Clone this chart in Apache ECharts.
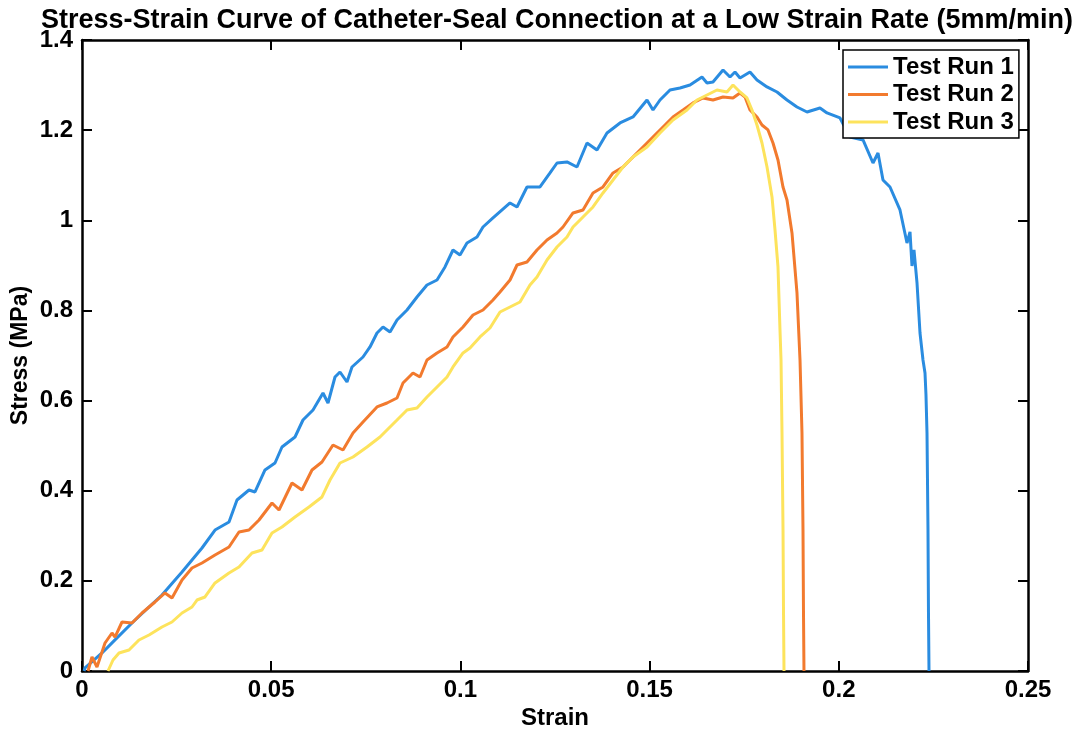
<!DOCTYPE html>
<html>
<head>
<meta charset="utf-8">
<script src="https://cdn.jsdelivr.net/npm/echarts@6/dist/echarts.min.js"></script>
<style>
html,body{margin:0;padding:0;background:#fff;}
#chart{width:1074px;height:734px;}
</style>
</head>
<body>
<div id="chart"></div>
<script>
const seriesNames = ['Test Run 1', 'Test Run 2', 'Test Run 3'];
const xTicks = [0, 0.05, 0.1, 0.15, 0.2, 0.25];
const yTicks = [0, 0.2, 0.4, 0.6, 0.8, 1, 1.2, 1.4];

const run1Strain = [0.00053,0.00079,0.00529,0.00872,0.01321,0.01771,0.02114,0.02458,0.02643,0.02907,0.03171,0.03515,0.03885,0.04096,0.04413,0.04572,0.04836,0.05100,0.05285,0.05629,0.05840,0.06105,0.06369,0.06501,0.06686,0.06818,0.07003,0.07135,0.07426,0.07611,0.07796,0.07955,0.08140,0.08325,0.08589,0.08853,0.09117,0.09382,0.09593,0.09804,0.09989,0.10174,0.10439,0.10597,0.10861,0.11311,0.11496,0.11760,0.12104,0.12368,0.12553,0.12817,0.13081,0.13346,0.13610,0.13874,0.14218,0.14561,0.14931,0.15090,0.15275,0.15539,0.15803,0.16068,0.16385,0.16517,0.16675,0.16940,0.17125,0.17257,0.17389,0.17653,0.17838,0.18103,0.18367,0.18631,0.18895,0.19160,0.19503,0.19688,0.20032,0.20296,0.20640,0.20904,0.21036,0.21168,0.21353,0.21617,0.21802,0.21882,0.21934,0.21987,0.22067,0.22146,0.22225,0.22278,0.22304,0.22331,0.22357,0.22370,0.22384];
const run1Stress = [0,0.0067,0.040,0.069,0.1065,0.142,0.1686,0.2019,0.2197,0.2463,0.2729,0.3128,0.3306,0.3794,0.4016,0.3972,0.4460,0.4615,0.4970,0.5192,0.5569,0.5791,0.6168,0.5946,0.6523,0.6634,0.6412,0.6745,0.6967,0.7189,0.7499,0.7633,0.7522,0.7788,0.8010,0.8298,0.8564,0.8675,0.8964,0.9341,0.9230,0.9496,0.9629,0.9851,1.0051,1.0384,1.0295,1.0739,1.0739,1.1050,1.1271,1.1294,1.1183,1.1715,1.1560,1.1937,1.2159,1.2292,1.2669,1.2447,1.2669,1.2891,1.2935,1.3002,1.3180,1.3047,1.3069,1.3335,1.3180,1.3290,1.3157,1.3290,1.3113,1.2958,1.2847,1.2669,1.2514,1.2403,1.2492,1.2381,1.2270,1.1848,1.1782,1.1271,1.1493,1.0894,1.0739,1.0229,0.9496,0.9741,0.8986,0.9341,0.8609,0.7499,0.6900,0.6612,0.6124,0.5281,0.3128,0.1287,0];

const run2Strain = [0.00159,0.00264,0.00396,0.00608,0.00793,0.00872,0.01057,0.01321,0.01586,0.01929,0.02193,0.02378,0.02643,0.02907,0.03171,0.03515,0.03885,0.04149,0.04413,0.04678,0.05021,0.05206,0.05550,0.05814,0.06078,0.06342,0.06633,0.06897,0.07162,0.07426,0.07796,0.08060,0.08325,0.08483,0.08747,0.08932,0.09117,0.09382,0.09646,0.09804,0.10069,0.10333,0.10597,0.10861,0.11047,0.11311,0.11496,0.11760,0.12024,0.12289,0.12553,0.12711,0.12976,0.13240,0.13504,0.13768,0.14033,0.14297,0.14561,0.14826,0.15090,0.15354,0.15618,0.15883,0.16147,0.16411,0.16675,0.16940,0.17204,0.17389,0.17521,0.17653,0.17838,0.17970,0.18129,0.18261,0.18393,0.18525,0.18631,0.18763,0.18895,0.18975,0.19027,0.19054,0.19067,0.19080];
const run2Stress = [0,0.0311,0.0089,0.0621,0.0843,0.0754,0.1087,0.1065,0.1287,0.1531,0.1731,0.1620,0.2019,0.2285,0.2396,0.2574,0.2751,0.3084,0.3128,0.3350,0.3728,0.3572,0.4171,0.4016,0.4460,0.4637,0.5014,0.4903,0.5281,0.5525,0.5858,0.5946,0.6057,0.6390,0.6612,0.6523,0.6900,0.7056,0.7189,0.7411,0.7633,0.7899,0.8010,0.8232,0.8409,0.8675,0.9008,0.9075,0.9341,0.9563,0.9718,0.9851,1.0162,1.0229,1.0606,1.0739,1.1050,1.1183,1.1404,1.1626,1.1848,1.2070,1.2292,1.2447,1.2603,1.2714,1.2669,1.2736,1.2714,1.2825,1.2736,1.2447,1.2292,1.2114,1.2004,1.1715,1.1338,1.0739,1.0450,0.9718,0.8387,0.6900,0.5281,0.3128,0.1287,0];

const run3Strain = [0.00687,0.00819,0.00978,0.01242,0.01506,0.01771,0.02114,0.02378,0.02643,0.02907,0.03039,0.03251,0.03515,0.03885,0.04149,0.04493,0.04757,0.05021,0.05285,0.05629,0.05999,0.06342,0.06554,0.06818,0.07162,0.07532,0.07875,0.08060,0.08325,0.08589,0.08853,0.09117,0.09382,0.09646,0.09804,0.10069,0.10254,0.10518,0.10782,0.11047,0.11311,0.11575,0.11839,0.12024,0.12289,0.12553,0.12817,0.12976,0.13240,0.13504,0.13768,0.14033,0.14297,0.14561,0.14931,0.15275,0.15618,0.15988,0.16253,0.16517,0.16781,0.17045,0.17204,0.17389,0.17574,0.17706,0.17838,0.17970,0.18103,0.18235,0.18314,0.18393,0.18446,0.18473,0.18499,0.18526,0.18539,0.18552];
const run3Stress = [0,0.0244,0.0399,0.0466,0.0688,0.0799,0.0976,0.1087,0.1287,0.1420,0.1575,0.1642,0.1953,0.2174,0.2308,0.2618,0.2685,0.3062,0.3195,0.3417,0.3639,0.3861,0.4238,0.4615,0.4748,0.4970,0.5192,0.5347,0.5569,0.5791,0.5835,0.6079,0.6301,0.6523,0.6745,0.7056,0.7167,0.7411,0.7610,0.7965,0.8076,0.8187,0.8564,0.8742,0.9119,0.9408,0.9629,0.9851,1.0073,1.0295,1.0606,1.0894,1.1183,1.1404,1.1626,1.1937,1.2225,1.2447,1.2669,1.2780,1.2891,1.2847,1.3002,1.2847,1.2714,1.2447,1.2114,1.1715,1.1183,1.0517,0.9785,0.8964,0.7566,0.6900,0.5281,0.3128,0.1287,0];

const colors = ['#2A8CE0', '#F27A2E', '#FDE35C'];
const FONT = '"Liberation Sans", Arial, Helvetica, sans-serif';

function pairs(xs, ys) { return xs.map((x, i) => [x, ys[i]]); }
const allData = [pairs(run1Strain, run1Stress), pairs(run2Strain, run2Stress), pairs(run3Strain, run3Stress)];

const axisCommon = {
  type: 'value',
  axisLine: { show: true, onZero: false, lineStyle: { color: '#000', width: 2.5 } },
  axisTick: { show: true, inside: true, length: 10, lineStyle: { color: '#000', width: 2 } },
  splitLine: { show: false },
};

const chart = echarts.init(document.getElementById('chart'), null, { renderer: 'canvas' });
chart.setOption({
  animation: false,
  backgroundColor: '#fff',
  color: colors,
  title: {
    text: 'Stress-Strain Curve of Catheter-Seal Connection at a Low Strain Rate (5mm/min)',
    left: 552, top: 2, textAlign: 'center',
    textStyle: { fontFamily: FONT, fontWeight: 'bold', fontSize: 27, color: '#000' }
  },
  grid: { left: 82, right: 46, top: 40, bottom: 63, containLabel: false, outerBoundsMode: 'none' },
  legend: {
    data: seriesNames,
    orient: 'vertical',
    left: 843, top: 50,
    padding: [5, 5, 4, 5],
    icon: 'rect',
    itemWidth: 40, itemHeight: 3, itemGap: 3.5,
    backgroundColor: '#fff',
    borderColor: '#000', borderWidth: 1.5, borderRadius: 0,
    textStyle: { fontFamily: FONT, fontWeight: 'bold', fontSize: 24, lineHeight: 24, color: '#000' }
  },
  xAxis: [
    Object.assign({}, axisCommon, {
      min: 0, max: 0.25, interval: 0.05, position: 'bottom',
      name: 'Strain', nameLocation: 'middle', nameGap: 35, nameMoveOverlap: false,
      nameTextStyle: { fontFamily: FONT, fontWeight: 'bold', fontSize: 24, color: '#000' },
      axisLabel: { fontFamily: FONT, fontWeight: 'bold', fontSize: 24, color: '#000', margin: 7,
        formatter: v => String(xTicks.find(t => Math.abs(t - v) < 1e-9) ?? v) }
    }),
    Object.assign({}, axisCommon, {
      min: 0, max: 0.25, interval: 0.05, position: 'top', axisLabel: { show: false }
    })
  ],
  yAxis: [
    Object.assign({}, axisCommon, {
      min: 0, max: 1.4, interval: 0.2, position: 'left',
      name: 'Stress (MPa)', nameLocation: 'middle', nameGap: 50, nameRotate: 90, nameMoveOverlap: false,
      nameTextStyle: { fontFamily: FONT, fontWeight: 'bold', fontSize: 23, color: '#000' },
      axisLabel: { fontFamily: FONT, fontWeight: 'bold', fontSize: 24, color: '#000', margin: 9,
        formatter: v => String(yTicks.find(t => Math.abs(t - v) < 1e-9) ?? v) }
    }),
    Object.assign({}, axisCommon, {
      min: 0, max: 1.4, interval: 0.2, position: 'right', axisLabel: { show: false }
    })
  ],
  series: seriesNames.map((name, i) => ({
    name: name,
    type: 'line',
    xAxisIndex: 0, yAxisIndex: 0,
    data: allData[i],
    symbol: 'none',
    showSymbol: false,
    lineStyle: { width: 3, color: colors[i] },
    itemStyle: { color: colors[i] },
    z: 2 + i
  }))
});
</script>
</body>
</html>
